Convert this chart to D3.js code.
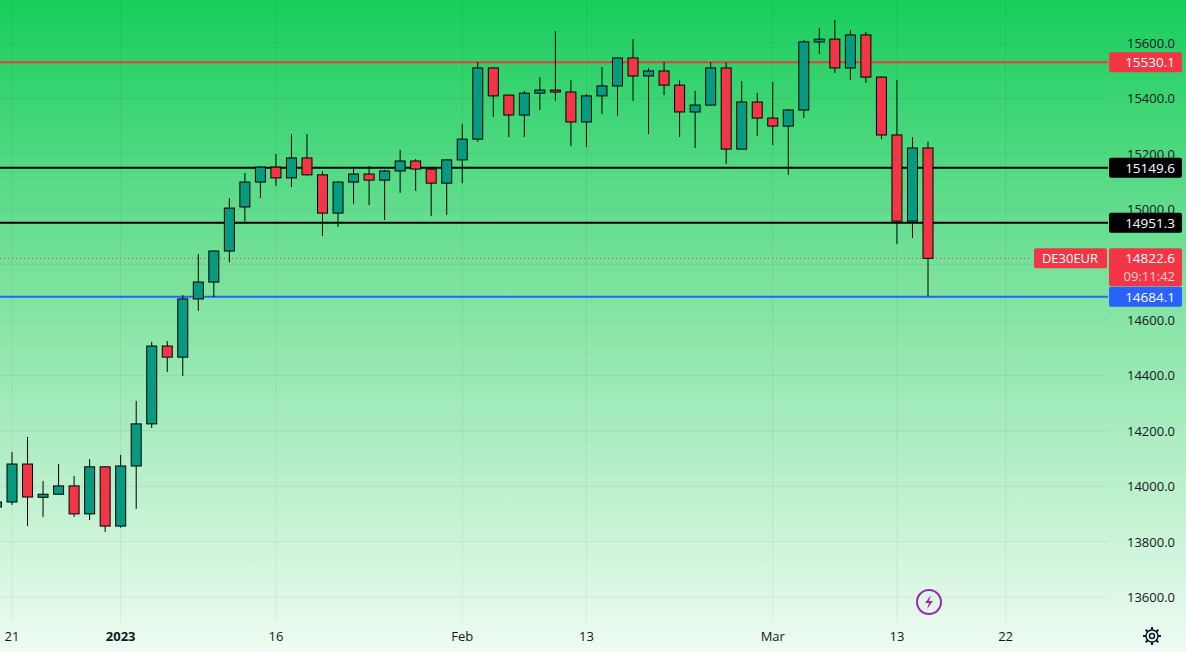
<!DOCTYPE html>
<html><head><meta charset="utf-8">
<script src="https://cdn.jsdelivr.net/npm/d3@7"></script>
<style>body{margin:0;overflow:hidden}svg{display:block;font-family:"Open Sans",Roboto,sans-serif}</style>
</head><body><svg id="vis" width="1186" height="652"></svg>
<script>
// daily candles, Dec 20 2022 .. Mar 15 2023
const dates = ["Dec20","Dec21","Dec22","Dec23","Dec27","Dec28","Dec29","Dec30","Jan2","Jan3","Jan4","Jan5","Jan6","Jan9","Jan10","Jan11","Jan12","Jan13","Jan16","Jan17","Jan18","Jan19","Jan20","Jan23","Jan24","Jan25","Jan26","Jan27","Jan30","Jan31","Feb1","Feb2","Feb3","Feb6","Feb7","Feb8","Feb9","Feb10","Feb13","Feb14","Feb15","Feb16","Feb17","Feb20","Feb21","Feb22","Feb23","Feb24","Feb27","Feb28","Mar1","Mar2","Mar3","Mar6","Mar7","Mar8","Mar9","Mar10","Mar13","Mar14","Mar15"]
const opens  = [13925,13943,14080,13960,13971,14001,13900,14070,13856,14073,14225,14506,14466,14676,14737,14849,15008,15098,15152,15113,15185,15124,14986,15098,15127,15105,15138,15174,15145,15094,15178,15253,15510,15412,15340,15419,15430,15423,15315,15409,15445,15546,15481,15499,15448,15351,15376,15510,15217,15387,15329,15300,15358,15604,15614,15510,15629,15477,15268,14957,15221]
const closes = [13943,14080,13961,13971,14001,13900,14070,13856,14073,14225,14506,14466,14676,14737,14849,15004,15098,15152,15113,15185,15124,14986,15098,15127,15105,15138,15174,15145,15094,15178,15253,15510,15409,15340,15419,15430,15423,15315,15409,15445,15546,15481,15499,15448,15351,15376,15510,15217,15387,15329,15300,15358,15604,15614,15510,15629,15477,15268,14957,15221,14822.6]
const highs  = [13950,14124,14178,14019,14080,14037,14098,14072,14113,14308,14521,14524,14690,14838,14850,15040,15131,15155,15199,15271,15271,15138,15100,15145,15156,15142,15214,15181,15148,15181,15308,15531,15512,15414,15427,15477,15643,15466,15416,15513,15548,15614,15510,15531,15466,15427,15531,15530,15463,15420,15459,15362,15611,15654,15683,15647,15640,15480,15466,15260,15243]
const lows   = [13915,13932,13856,13889,13970,13889,13878,13835,13850,13918,14210,14412,14398,14633,14683,14808,14954,15040,15084,15080,15122,14903,14936,15019,15015,14961,15059,15066,14975,14979,15094,15243,15333,15261,15261,15358,15391,15228,15224,15344,15337,15391,15271,15412,15261,15221,15374,15163,15214,15264,15232,15124,15329,15560,15492,15466,15456,15253,14874,14896,14684.1]
const yTicks = [13600,13800,14000,14200,14400,14600,14800,15000,15200,15400,15600]
const xTickIdx = [1,8,18,30,38,50,58,65]
const xTickLabels = ["21","2023","16","Feb","13","Mar","13","22"]
const levels = [{v:15530.1,c:"#f23645",t:"#fff"},{v:15149.6,c:"#000",t:"#fff"},{v:14951.3,c:"#000",t:"#fff"},{v:14684.1,c:"#2962ff",t:"#fff"}]
const last = 14822.6

const svg = d3.select("#vis")
const W = 1186, H = 652, plotR = 1108
const x = d3.scaleLinear().domain([1,60]).range([12,928])
const y = d3.scaleLinear().domain([13600,15600]).range([597,43])

const defs = svg.append("defs")
const grad = defs.append("linearGradient").attr("id","bg").attr("x1",0).attr("x2",0).attr("y1",0).attr("y2",1)
grad.append("stop").attr("offset","0%").attr("stop-color","#18cd5c")
grad.append("stop").attr("offset","45%").attr("stop-color","#7fe3a0")
grad.append("stop").attr("offset","100%").attr("stop-color","#f0fbf3")
svg.append("rect").attr("width",W).attr("height",H).attr("fill","url(#bg)")

// grid
svg.append("g").selectAll("line").data(yTicks).join("line")
  .attr("x1",0).attr("x2",plotR).attr("y1",d=>y(d)).attr("y2",d=>y(d))
  .attr("stroke","rgba(0,0,0,0.06)")
svg.append("g").selectAll("line").data(xTickIdx).join("line")
  .attr("x1",d=>x(d)).attr("x2",d=>x(d)).attr("y1",0).attr("y2",622)
  .attr("stroke","rgba(0,0,0,0.06)")

// level lines
svg.append("g").selectAll("line").data(levels).join("line")
  .attr("x1",0).attr("x2",plotR).attr("y1",d=>y(d.v)).attr("y2",d=>y(d.v))
  .attr("stroke",d=>d.c).attr("stroke-width",2)
svg.append("line").attr("x1",0).attr("x2",1032).attr("y1",y(last)).attr("y2",y(last))
  .attr("stroke","#f23645").attr("stroke-dasharray","1,3")

// candles
const idx = d3.range(dates.length)
const cg = svg.append("g")
cg.selectAll("line").data(idx).join("line")
  .attr("x1",i=>x(i)).attr("x2",i=>x(i)).attr("y1",i=>y(highs[i])).attr("y2",i=>y(lows[i]))
  .attr("stroke","#000").attr("stroke-width",1)
cg.selectAll("rect").data(idx).join("rect")
  .attr("x",i=>x(i)-5).attr("width",10)
  .attr("y",i=>y(Math.max(opens[i],closes[i])))
  .attr("height",i=>Math.max(1,Math.abs(y(opens[i])-y(closes[i]))))
  .attr("fill",i=>closes[i]>=opens[i]?"#089981":"#f23645")
  .attr("stroke","#000").attr("stroke-width",1)

// y axis labels (skip ones fully hidden behind a price tag)
const tagVals = levels.map(d=>d.v).concat([last])
const visTicks = yTicks.filter(t=>!tagVals.some(v=>Math.abs(y(v)-y(t))<10))
svg.append("g").selectAll("text").data(visTicks).join("text")
  .attr("x",1175).attr("y",d=>y(d)+5).attr("text-anchor","end")
  .attr("font-size",13).attr("fill","#131722").text(d=>d.toFixed(1))

// price tags
function tag(v,fill,txtCol){
  svg.append("rect").attr("x",1109).attr("y",y(v)-10).attr("width",73).attr("height",20).attr("rx",2).attr("fill",fill)
  svg.append("text").attr("x",1175).attr("y",y(v)+5).attr("text-anchor","end").attr("font-size",13.5).attr("fill",txtCol).text(v.toFixed(1))
}
levels.forEach(d=>tag(d.v,d.c,d.t))
svg.append("rect").attr("x",1109).attr("y",y(last)-10).attr("width",73).attr("height",38).attr("rx",2).attr("fill","#f23645")
svg.append("text").attr("x",1175).attr("y",y(last)+5).attr("text-anchor","end").attr("font-size",13.5).attr("fill","#fff").text(last.toFixed(1))
svg.append("text").attr("x",1175).attr("y",y(last)+23).attr("text-anchor","end").attr("font-size",13).attr("fill","#ffd0d4").text("09:11:42")
svg.append("rect").attr("x",1034).attr("y",y(last)-10).attr("width",73).attr("height",20).attr("rx",2).attr("fill","#f23645")
svg.append("text").attr("x",1070).attr("y",y(last)+5).attr("text-anchor","middle").attr("font-size",13).attr("fill","#fff").text("DE30EUR")

// x axis labels
svg.append("g").selectAll("text").data(xTickIdx).join("text")
  .attr("x",d=>x(d)).attr("y",641).attr("text-anchor","middle").attr("font-size",13)
  .attr("font-weight",(d,i)=>xTickLabels[i]==="2023"?"bold":"normal")
  .attr("fill","#131722").text((d,i)=>xTickLabels[i])

// lightning icon
const ic = svg.append("g").attr("transform",`translate(${x(60)+1},602)`)
ic.append("circle").attr("r",12).attr("fill","none").attr("stroke","#9c27b0").attr("stroke-width",2)
ic.append("path").attr("d","M2,-7 L-4,1 L0,1 L-2,7 L4,-1 L0,-1 Z").attr("fill","#9c27b0")

// gear icon
const gr = svg.append("g").attr("transform","translate(1152,636)")
gr.append("circle").attr("r",6).attr("fill","none").attr("stroke","#131722").attr("stroke-width",1.5)
gr.append("circle").attr("r",2.5).attr("fill","none").attr("stroke","#131722").attr("stroke-width",1.5)
gr.selectAll("line").data(d3.range(8)).join("line")
  .attr("x1",d=>6*Math.cos(d*Math.PI/4)).attr("y1",d=>6*Math.sin(d*Math.PI/4))
  .attr("x2",d=>9*Math.cos(d*Math.PI/4)).attr("y2",d=>9*Math.sin(d*Math.PI/4))
  .attr("stroke","#131722").attr("stroke-width",2)
</script></body></html>
